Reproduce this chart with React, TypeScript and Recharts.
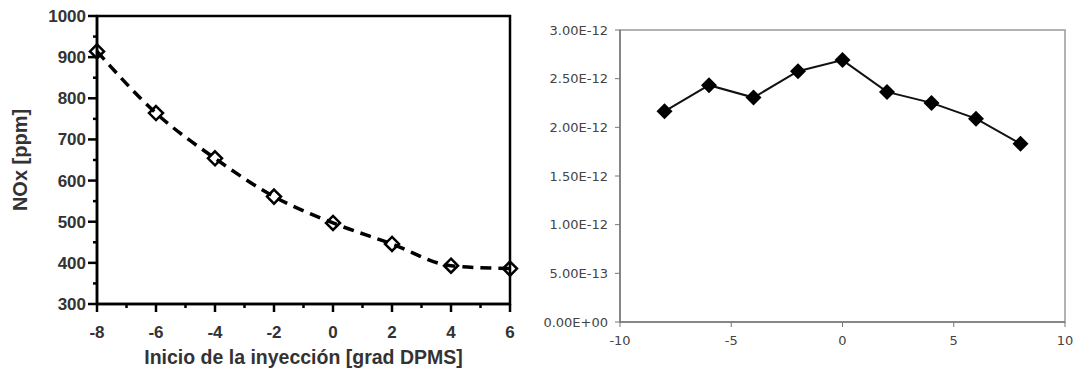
import React from 'react'
import { LineChart, Line, XAxis, YAxis, ReferenceArea } from 'recharts'

// left panel: NOx vs start of injection
const injectionX = [-8, -6, -4, -2, 0, 2, 4, 6]
const noxPpm = [914, 764, 654, 561, 497, 446, 393, 386]
const leftXTicks = [-8, -7, -6, -5, -4, -3, -2, -1, 0, 1, 2, 3, 4, 5, 6]
const leftYTicks = [300, 350, 400, 450, 500, 550, 600, 650, 700, 750, 800, 850, 900, 950, 1000]

// right panel
const rightX = [-8, -6, -4, -2, 0, 2, 4, 6, 8]
const rightY = [2.165e-12, 2.433e-12, 2.306e-12, 2.577e-12, 2.691e-12, 2.364e-12, 2.251e-12, 2.089e-12, 1.832e-12]
const rightXTicks = [-10, -5, 0, 5, 10]
const rightYTicks = [0, 5e-13, 1e-12, 1.5e-12, 2e-12, 2.5e-12, 3e-12]

const leftData = injectionX.map((x, i) => ({ x, y: noxPpm[i] }))
const rightData = rightX.map((x, i) => ({ x, y: rightY[i] }))

const boldFont = '"Liberation Sans", Arial, sans-serif'
const lightFont = '"DejaVu Sans", Verdana, sans-serif'

function sciLabel(v: number) {
  if (v === 0) return '0.00E+00'
  const [m, e] = v.toExponential(2).split('e')
  const n = parseInt(e, 10)
  const sign = n < 0 ? '-' : '+'
  return m + 'E' + sign + String(Math.abs(n)).padStart(2, '0')
}

function LeftXTick({ x, y, payload }: any) {
  const major = payload.value % 2 === 0
  return (
    <g>
      <line x1={x} x2={x} y1={y} y2={y + (major ? 8 : 4)} stroke="#000" strokeWidth={2.5} />
      {major && (
        <text x={x} y={y + 34} textAnchor="middle" fontFamily={boldFont} fontWeight="bold" fontSize={17} fill="#333">
          {payload.value}
        </text>
      )}
    </g>
  )
}

function LeftYTick({ x, y, payload }: any) {
  const major = payload.value % 100 === 0
  return (
    <g>
      <line x1={x} x2={x - (major ? 9 : 4)} y1={y} y2={y} stroke="#000" strokeWidth={2.5} />
      {major && (
        <text x={x - 11} y={y + 6} textAnchor="end" fontFamily={boldFont} fontWeight="bold" fontSize={17} fill="#333">
          {payload.value}
        </text>
      )}
    </g>
  )
}

function OpenDiamond({ cx, cy }: any) {
  if (cx == null || cy == null) return null
  const r = 7
  return (
    <path
      d={`M${cx},${cy - r}L${cx + r},${cy}L${cx},${cy + r}L${cx - r},${cy}Z`}
      fill="none"
      stroke="#000"
      strokeWidth={2.5}
    />
  )
}

function FilledDiamond({ cx, cy }: any) {
  if (cx == null || cy == null) return null
  const r = 8
  return <path d={`M${cx},${cy - r}L${cx + r},${cy}L${cx},${cy + r}L${cx - r},${cy}Z`} fill="#000" />
}

export default function App() {
  return (
    <div style={{ position: 'absolute', left: 0, top: 0, width: 1077, height: 372, background: '#fff' }}>
      <div style={{ position: 'absolute', left: 0, top: 0 }}>
        <LineChart width={540} height={372} data={leftData} margin={{ top: 16, right: 30, bottom: 28, left: 0 }}>
          <ReferenceArea x1={-8} x2={6} y1={300} y2={1000} fill="none" stroke="#000" strokeWidth={2.5} ifOverflow="visible" />
          <XAxis
            type="number"
            dataKey="x"
            domain={[-8, 6]}
            ticks={leftXTicks}
            interval={0}
            height={40}
            tickSize={0}
            tickMargin={0}
            tickLine={false}
            axisLine={{ stroke: '#000', strokeWidth: 2.5 }}
            tick={<LeftXTick />}
            label={{
              content: ({ viewBox }: any) => (
                <text
                  x={viewBox.x + viewBox.width / 2}
                  y={357}
                  textAnchor="middle"
                  dominantBaseline="central"
                  fontFamily={boldFont}
                  fontWeight="bold"
                  fontSize={19.5}
                  fill="#333"
                >
                  Inicio de la inyección [grad DPMS]
                </text>
              )
            }}
          />
          <YAxis
            type="number"
            domain={[300, 1000]}
            ticks={leftYTicks}
            interval={0}
            width={97}
            tickSize={0}
            tickMargin={0}
            tickLine={false}
            axisLine={{ stroke: '#000', strokeWidth: 2.5 }}
            tick={<LeftYTick />}
            label={{
              content: ({ viewBox }: any) => {
                const cy = viewBox.y + viewBox.height / 2
                return (
                  <text
                    x={20}
                    y={cy}
                    transform={`rotate(-90, 20, ${cy})`}
                    textAnchor="middle"
                    dominantBaseline="central"
                    fontFamily={boldFont}
                    fontWeight="bold"
                    fontSize={20}
                    fill="#333"
                  >
                    NOx [ppm]
                  </text>
                )
              }
            }}
          />
          <Line
            type="monotone"
            dataKey="y"
            stroke="#000"
            strokeWidth={3.5}
            strokeDasharray="11 7"
            dot={<OpenDiamond />}
            isAnimationActive={false}
          />
        </LineChart>
      </div>
      <div style={{ position: 'absolute', left: 540, top: 0 }}>
        <LineChart width={537} height={372} data={rightData} margin={{ top: 30, right: 12, bottom: 20, left: 0 }}>
          <ReferenceArea x1={-10} x2={10} y1={0} y2={3e-12} fill="none" stroke="#999" strokeWidth={1.5} ifOverflow="visible" />
          <XAxis
            type="number"
            dataKey="x"
            domain={[-10, 10]}
            ticks={rightXTicks}
            interval={0}
            height={30}
            tickSize={5}
            tickMargin={9}
            tickLine={{ stroke: '#777' }}
            axisLine={{ stroke: '#777', strokeWidth: 1.5 }}
            tick={{ fontFamily: lightFont, fontSize: 13, fill: '#444' }}
          />
          <YAxis
            type="number"
            domain={[0, 3e-12]}
            ticks={rightYTicks}
            interval={0}
            width={80}
            tickSize={5}
            tickMargin={7}
            tickLine={{ stroke: '#777' }}
            axisLine={{ stroke: '#777', strokeWidth: 1.5 }}
            tickFormatter={sciLabel}
            tick={{ fontFamily: lightFont, fontSize: 13, fill: '#444' }}
          />
          <Line
            type="linear"
            dataKey="y"
            stroke="#111"
            strokeWidth={2}
            dot={<FilledDiamond />}
            isAnimationActive={false}
          />
        </LineChart>
      </div>
    </div>
  )
}
